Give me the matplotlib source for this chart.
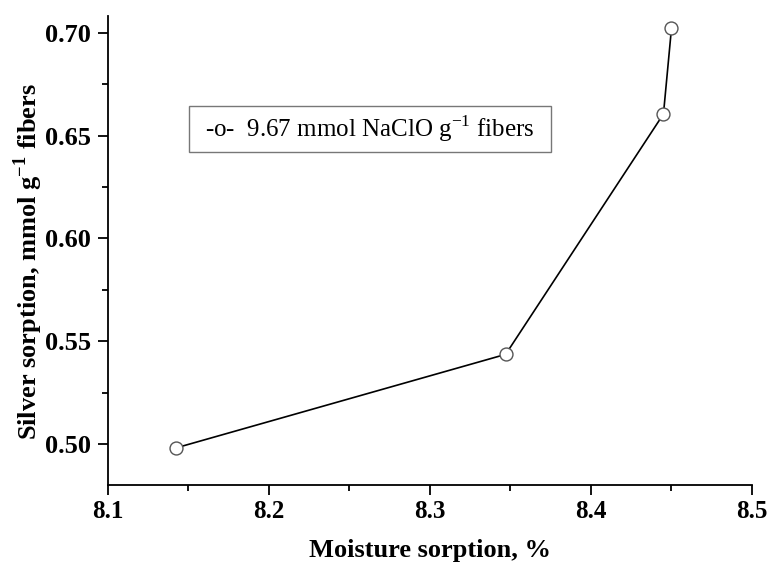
import matplotlib
matplotlib.use("Agg")
import matplotlib.pyplot as plt
from matplotlib.patches import Rectangle
from matplotlib.ticker import MultipleLocator

plt.rcParams["font.family"] = ["Liberation Serif", "DejaVu Serif"]
plt.rcParams["mathtext.fontset"] = "custom"
plt.rcParams["mathtext.rm"] = "Liberation Serif"
plt.rcParams["mathtext.bf"] = "Liberation Serif:bold"

# Moisture sorption (%) vs silver sorption (mmol/g fibers)
moisture = [8.142, 8.347, 8.445, 8.450]
silver = [0.498, 0.5436, 0.6606, 0.7024]

x_ticks = [8.1, 8.2, 8.3, 8.4, 8.5]
y_ticks = [0.50, 0.55, 0.60, 0.65, 0.70]

W, H = 769, 563
fig = plt.figure(figsize=(W / 100, H / 100), dpi=100)
ax = fig.add_axes([108 / W, 1 - 485 / H, (752 - 108) / W, (485 - 16) / H])

ax.plot(moisture, silver, color="black", lw=1.2, marker="o", ms=9.3,
        mfc="white", mec="#555555", mew=1.0, zorder=3)

ax.set_xlim(8.1, 8.5)
ax.set_ylim(0.48, 0.7083)
ax.set_xticks(x_ticks)
ax.set_yticks(y_ticks)
ax.set_xticklabels([f"{v:.1f}" for v in x_ticks])
ax.set_yticklabels([f"{v:.2f}" for v in y_ticks])
ax.xaxis.set_minor_locator(MultipleLocator(0.05))
ax.yaxis.set_minor_locator(MultipleLocator(0.025))

for side in ("top", "right"):
    ax.spines[side].set_visible(False)
for side in ("left", "bottom"):
    ax.spines[side].set_linewidth(1.3)

ax.tick_params(which="major", direction="out", length=7, width=1.3)
ax.tick_params(which="minor", direction="out", length=4, width=1.3)
ax.tick_params(axis="x", which="major", labelsize=18, pad=4)
ax.tick_params(axis="y", which="major", labelsize=19, pad=5)
for lbl in ax.get_xticklabels() + ax.get_yticklabels():
    lbl.set_fontweight("bold")

ax.set_xlabel("Moisture sorption, %", fontsize=19, fontweight="bold", va="center")
ax.set_ylabel(r"Silver sorption, mmol g$^{\mathbf{-1}}$ fibers", fontsize=19,
              fontweight="bold", va="center")
ax.xaxis.set_label_coords(430 / W, 1 - 550 / H, transform=fig.transFigure)
ax.yaxis.set_label_coords(28 / W, 1 - 262 / H, transform=fig.transFigure)

# Series key box
fig.patches.append(Rectangle((189 / W, 1 - 152 / H), (551 - 189) / W, 46 / H,
                             transform=fig.transFigure, fill=False,
                             ec="#777777", lw=1.0))
fig.text(370 / W, 1 - 129 / H, r"-o-  9.67 mmol NaClO g$^{-1}$ fibers",
         fontsize=18, ha="center", va="center")

fig.savefig("out.png", dpi=100)
